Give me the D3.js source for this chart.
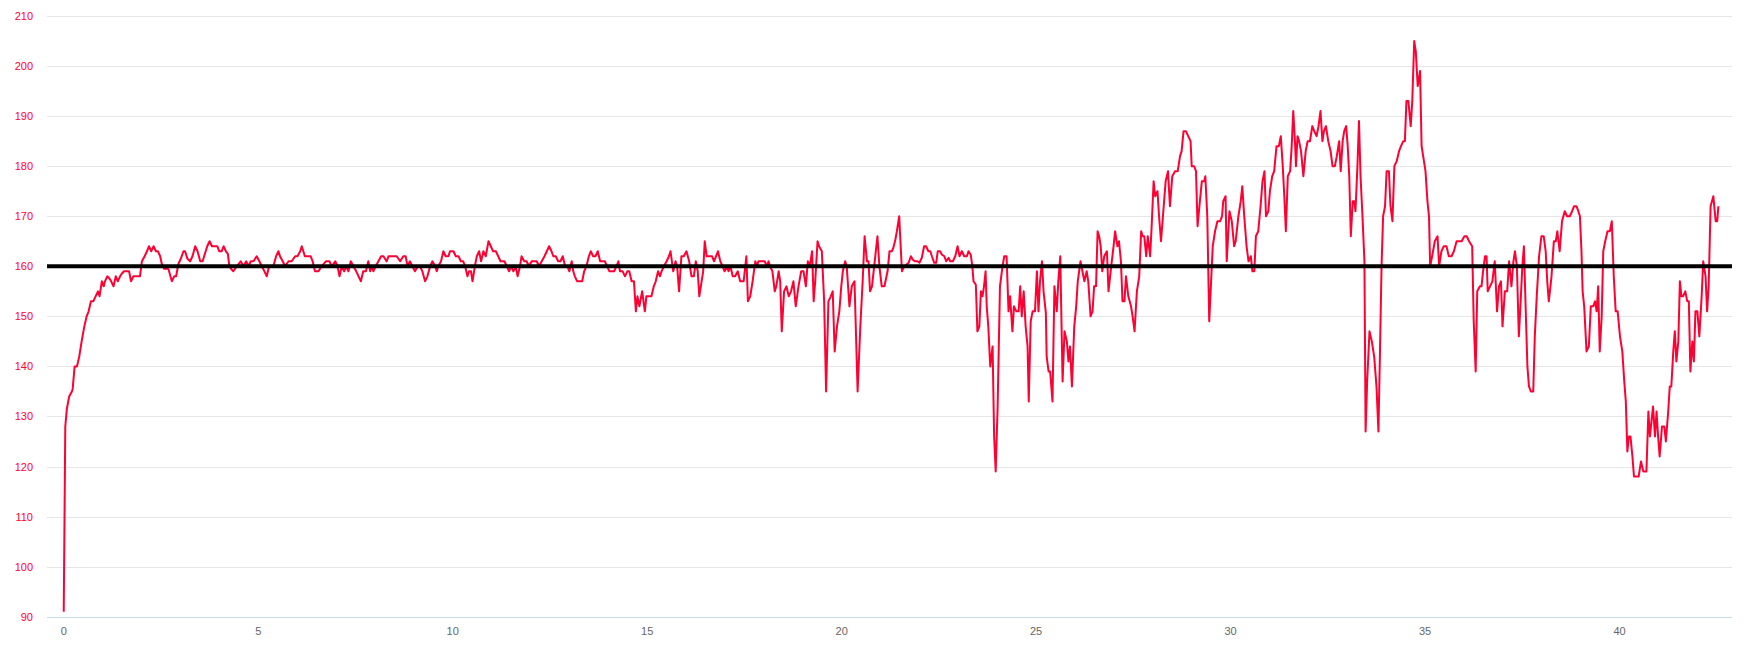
<!DOCTYPE html>
<html>
<head>
<meta charset="utf-8">
<script src="https://cdn.jsdelivr.net/npm/d3@7"></script>
<style>
    html, body { margin: 0; padding: 0; background: #ffffff; }
    #chart svg { display: block; }
    .grid-line { stroke: #e6e6e6; stroke-width: 1; }
    .x-axis-line { stroke: #ccd6eb; stroke-width: 1; }
    .y-label { fill: #ff0033; font-family: "Liberation Sans", Arial, sans-serif; font-size: 11px; }
    .x-label { fill: #666666; font-family: "Liberation Sans", Arial, sans-serif; font-size: 11px; }
    .reading-line { fill: none; stroke: #ff0033; stroke-width: 2; stroke-linejoin: round; }
    .target-line { stroke: #000000; stroke-width: 4; }
</style>
</head>
<body>
<div id="chart"></div>
<script>
// distance (km) / value pairs
var readings = [
    [0, 91], [0.04, 128], [0.08, 131.5], [0.14, 134], [0.21, 135], [0.23, 135.5], [0.28, 140], [0.34, 140], [0.40, 142], [0.46, 145],
    [0.53, 148], [0.59, 150], [0.64, 151], [0.70, 153], [0.76, 153], [0.82, 154], [0.88, 155], [0.92, 154], [0.98, 157], [1.03, 156],
    [1.06, 157], [1.12, 158], [1.18, 157.5], [1.22, 157], [1.28, 156], [1.34, 158], [1.39, 157], [1.45, 158], [1.49, 158.5], [1.55, 159],
    [1.62, 159], [1.68, 159], [1.73, 157], [1.79, 158], [1.88, 158], [1.96, 158], [2.01, 161], [2.08, 162], [2.14, 163], [2.19, 164],
    [2.25, 163], [2.31, 164], [2.37, 163], [2.42, 163], [2.48, 162], [2.52, 160.5], [2.58, 159.5], [2.65, 159.5], [2.69, 159.5], [2.78, 157],
    [2.84, 158], [2.89, 158], [2.95, 160.5], [3.01, 161.5], [3.08, 163], [3.12, 163], [3.18, 161.5], [3.25, 161], [3.31, 162], [3.38, 164],
    [3.44, 163], [3.51, 161], [3.57, 161], [3.63, 162.5], [3.69, 164], [3.75, 165], [3.81, 164], [3.88, 164], [3.95, 164], [4.00, 163],
    [4.06, 163], [4.11, 164], [4.17, 163], [4.22, 162.5], [4.25, 160.5], [4.30, 159.5],
    [4.36, 159], [4.45, 160], [4.55, 161], [4.62, 160], [4.69, 161], [4.75, 160], [4.81, 161], [4.88, 161], [4.96, 162], [5.03, 161],
    [5.09, 160], [5.16, 159], [5.22, 158], [5.28, 160], [5.39, 160], [5.46, 162], [5.52, 163], [5.56, 162], [5.63, 161], [5.69, 160],
    [5.78, 161], [5.86, 161], [5.95, 162], [6.01, 162], [6.08, 163], [6.12, 164], [6.20, 162], [6.29, 162], [6.35, 162], [6.40, 161],
    [6.46, 159], [6.55, 159], [6.63, 160], [6.74, 161], [6.83, 161], [6.89, 160], [6.98, 161], [7.04, 160], [7.09, 158], [7.15, 160],
    [7.21, 159], [7.26, 160], [7.32, 159], [7.38, 161], [7.45, 160], [7.52, 159], [7.58, 158], [7.64, 157], [7.70, 159], [7.77, 159],
    [7.83, 161], [7.88, 159], [7.92, 160], [7.96, 159], [8.02, 160], [8.09, 161], [8.16, 162], [8.22, 162],
    [8.30, 161], [8.35, 162], [8.47, 162], [8.56, 162], [8.65, 161], [8.73, 162], [8.79, 162], [8.84, 160], [8.90, 161], [8.96, 160],
    [9.03, 159], [9.10, 160], [9.16, 160], [9.22, 159], [9.29, 157], [9.35, 158], [9.42, 160], [9.48, 161], [9.55, 160], [9.59, 159],
    [9.63, 160], [9.70, 161], [9.76, 163], [9.82, 162], [9.89, 162], [9.93, 163], [10.02, 163], [10.08, 162], [10.15, 162], [10.21, 161],
    [10.27, 161], [10.32, 160], [10.38, 158], [10.42, 159], [10.47, 159], [10.51, 157], [10.57, 160], [10.62, 162], [10.68, 163], [10.73, 161],
    [10.79, 163], [10.85, 162], [10.92, 165], [10.98, 164], [11.04, 163], [11.11, 163], [11.17, 162], [11.23, 161], [11.28, 161], [11.33, 161],
    [11.39, 160], [11.45, 159], [11.50, 160], [11.56, 159], [11.62, 160], [11.67, 158], [11.73, 160], [11.77, 162], [11.84, 161], [11.90, 161],
    [11.96, 160], [12.03, 161], [12.10, 161], [12.16, 161], [12.22, 160], [12.29, 161], [12.36, 162], [12.42, 163], [12.48, 164], [12.54, 163],
    [12.59, 162], [12.65, 162], [12.71, 161], [12.77, 161], [12.83, 162], [12.89, 160], [12.95, 160], [13.00, 159], [13.06, 161], [13.10, 159],
    [13.14, 158], [13.20, 157], [13.27, 157], [13.33, 157], [13.38, 159], [13.44, 160], [13.50, 162], [13.55, 163], [13.61, 162], [13.67, 162],
    [13.73, 163], [13.79, 161], [13.85, 161], [13.91, 161], [13.97, 160], [14.03, 159], [14.09, 159], [14.15, 159], [14.21, 160], [14.26, 161],
    [14.30, 159], [14.37, 159], [14.43, 158], [14.49, 159], [14.54, 159], [14.60, 157], [14.66, 157], [14.71, 151], [14.75, 154], [14.80, 152],
    [14.87, 155], [14.94, 151], [14.98, 154], [15.05, 154], [15.11, 154], [15.17, 156], [15.22, 157], [15.28, 159], [15.33, 158], [15.37, 159],
    [15.43, 160], [15.50, 161], [15.56, 162], [15.60, 163], [15.67, 159], [15.73, 161], [15.77, 160], [15.82, 155], [15.88, 162], [15.94, 162],
    [16.01, 163], [16.08, 161], [16.14, 158], [16.20, 158], [16.25, 161], [16.30, 159], [16.34, 154], [16.40, 157], [16.44, 159], [16.48, 165],
    [16.53, 162], [16.61, 162], [16.67, 162], [16.72, 161],
    [16.82, 163], [16.88, 161], [16.94, 160], [16.99, 159], [17.05, 160], [17.09, 159], [17.14, 160], [17.20, 158], [17.26, 158], [17.33, 159],
    [17.39, 157], [17.48, 157], [17.55, 162], [17.59, 153], [17.65, 154], [17.71, 157], [17.78, 161], [17.82, 160], [17.86, 161], [17.93, 161],
    [18.02, 161], [18.08, 160], [18.12, 161], [18.16, 160], [18.22, 159], [18.28, 155], [18.32, 156], [18.38, 159], [18.42, 157], [18.46, 147],
    [18.52, 155], [18.58, 156], [18.64, 154], [18.70, 155], [18.76, 157], [18.82, 152], [18.89, 156], [18.96, 159], [19.02, 159], [19.08, 156],
    [19.13, 161], [19.18, 160], [19.24, 163], [19.28, 153], [19.32, 157], [19.38, 165], [19.42, 164], [19.49, 163], [19.55, 153], [19.60, 135],
    [19.66, 153], [19.72, 154], [19.77, 155], [19.82, 143], [19.88, 148], [19.94, 151], [19.99, 156], [20.03, 159], [20.09, 161], [20.13, 160],
    [20.20, 152], [20.26, 156], [20.33, 157], [20.41, 135], [20.48, 148], [20.54, 157], [20.59, 166], [20.65, 161], [20.69, 161], [20.73, 155],
    [20.78, 156], [20.85, 161], [20.92, 166], [20.97, 160], [21.03, 156], [21.10, 156],
    [21.18, 159], [21.23, 163], [21.29, 163], [21.33, 163.7], [21.38, 165.3], [21.42, 167], [21.48, 170], [21.50, 166.7], [21.55, 159], [21.59, 159.7],
    [21.66, 160.3], [21.72, 160.7], [21.78, 162], [21.83, 161.3], [21.89, 161], [21.95, 161], [22.00, 160.7], [22.06, 161.7], [22.12, 164], [22.17, 164],
    [22.23, 163], [22.28, 163], [22.32, 162], [22.38, 160.7], [22.43, 160.7], [22.47, 163], [22.53, 163], [22.58, 162.3], [22.64, 162], [22.69, 161],
    [22.75, 161.7], [22.79, 161], [22.86, 161], [22.92, 162], [22.98, 164], [23.03, 162], [23.09, 163], [23.15, 162], [23.22, 162], [23.26, 163],
    [23.32, 162.3], [23.36, 160], [23.39, 157], [23.45, 156.3], [23.49, 147], [23.54, 148], [23.58, 155], [23.62, 154], [23.66, 156], [23.70, 159],
    [23.73, 152], [23.77, 148], [23.82, 140], [23.88, 144], [23.92, 126], [23.96, 119], [24.01, 132], [24.07, 156], [24.13, 159.7], [24.18, 162],
    [24.24, 162], [24.29, 151], [24.33, 154], [24.39, 147], [24.43, 152], [24.49, 151], [24.55, 151], [24.59, 156], [24.63, 150], [24.68, 155],
    [24.73, 148], [24.78, 144], [24.81, 133], [24.86, 149], [24.91, 151], [24.97, 151], [25.02, 159], [25.06, 151], [25.10, 157], [25.15, 161],
    [25.19, 155], [25.25, 150.7],
    [25.27, 142], [25.32, 139], [25.36, 139], [25.42, 133], [25.47, 156], [25.53, 151], [25.57, 157], [25.62, 162], [25.68, 137], [25.73, 147],
    [25.79, 145], [25.83, 141], [25.87, 144], [25.92, 136], [25.98, 148], [26.03, 152], [26.07, 157], [26.14, 161], [26.19, 159], [26.24, 157],
    [26.30, 159], [26.34, 157], [26.40, 150], [26.45, 151], [26.49, 156], [26.54, 156], [26.58, 167], [26.62, 166], [26.66, 164], [26.70, 159],
    [26.75, 162], [26.82, 163], [26.86, 155], [26.93, 160], [26.99, 164], [27.03, 167], [27.09, 164], [27.13, 165], [27.18, 161], [27.22, 153],
    [27.27, 153], [27.31, 158], [27.37, 154], [27.44, 152], [27.48, 150], [27.53, 147], [27.59, 155], [27.65, 158], [27.70, 167], [27.74, 166],
    [27.78, 166], [27.83, 162], [27.87, 166], [27.93, 162], [27.97, 168], [28.02, 177], [28.06, 174], [28.12, 175], [28.16, 170], [28.21, 165],
    [28.27, 171], [28.33, 177], [28.39, 179], [28.44, 172], [28.50, 178], [28.57, 179], [28.64, 179], [28.70, 182], [28.74, 183], [28.79, 187],
    [28.85, 187], [28.91, 186], [28.97, 185], [29.00, 180], [29.06, 180], [29.11, 179], [29.15, 168], [29.21, 173], [29.26, 177], [29.32, 177],
    [29.35, 178], [29.40, 170], [29.45, 149],
    [29.54, 164], [29.60, 167], [29.66, 169], [29.73, 169], [29.78, 170], [29.81, 173], [29.87, 174], [29.90, 161], [29.97, 171], [30.03, 169],
    [30.09, 164], [30.13, 165], [30.20, 170], [30.26, 173], [30.30, 176], [30.35, 170], [30.41, 164], [30.46, 161], [30.52, 162], [30.56, 159],
    [30.61, 159], [30.65, 166], [30.71, 167], [30.77, 172], [30.82, 177], [30.87, 179], [30.91, 170], [30.97, 171], [31.01, 175], [31.07, 178],
    [31.12, 179], [31.18, 184], [31.24, 184], [31.29, 186], [31.34, 180], [31.38, 174], [31.42, 167], [31.47, 178], [31.53, 179], [31.57, 184],
    [31.61, 191], [31.66, 184], [31.68, 180], [31.72, 186], [31.76, 185], [31.81, 183], [31.87, 178], [31.93, 183], [31.98, 185], [32.04, 185],
    [32.10, 188], [32.15, 187], [32.21, 186], [32.26, 188], [32.31, 191], [32.36, 185], [32.40, 187], [32.45, 188], [32.51, 185], [32.57, 183],
    [32.62, 180], [32.68, 180], [32.73, 182], [32.79, 185], [32.83, 179], [32.88, 185], [32.92, 187], [32.97, 188], [33.01, 184], [33.05, 178],
    [33.09, 166], [33.14, 173], [33.18, 173], [33.21, 171], [33.26, 180], [33.30, 189], [33.34, 178], [33.39, 170], [33.44, 161], [33.47, 127],
    [33.51, 137], [33.57, 147], [33.63, 145], [33.69, 142],
    [33.75, 136], [33.80, 127], [33.84, 143], [33.88, 160], [33.92, 170], [33.97, 172], [34.01, 179], [34.07, 179], [34.11, 172], [34.16, 169],
    [34.21, 180], [34.27, 181], [34.33, 183], [34.38, 184], [34.44, 185], [34.48, 185], [34.52, 193], [34.57, 193], [34.63, 188], [34.67, 193],
    [34.72, 205], [34.76, 203], [34.81, 196], [34.87, 199], [34.91, 184], [34.95, 182], [35.01, 179], [35.06, 173], [35.10, 170], [35.13, 160],
    [35.18, 162], [35.25, 165], [35.32, 166], [35.36, 160], [35.42, 163], [35.48, 164], [35.55, 164], [35.61, 162], [35.68, 162], [35.74, 163],
    [35.81, 165], [35.87, 165], [35.94, 165], [36.01, 166], [36.07, 166], [36.13, 165], [36.21, 164], [36.25, 149], [36.30, 139], [36.34, 155],
    [36.41, 156], [36.45, 156], [36.49, 159], [36.54, 162], [36.58, 162], [36.61, 155], [36.67, 156], [36.73, 157], [36.79, 161], [36.85, 151],
    [36.90, 156], [36.95, 157], [36.99, 148], [37.05, 155], [37.11, 155], [37.16, 161], [37.22, 156], [37.27, 161], [37.31, 163], [37.36, 160],
    [37.41, 146], [37.45, 152], [37.50, 160], [37.54, 164], [37.58, 153], [37.63, 140], [37.67, 136], [37.72, 135], [37.78, 135], [37.82, 146],
    [37.87, 154], [37.93, 162],
    [37.99, 166], [38.05, 166], [38.10, 163], [38.14, 157], [38.18, 153], [38.25, 158], [38.31, 165], [38.36, 165], [38.40, 167], [38.46, 163],
    [38.52, 169], [38.59, 171], [38.65, 170], [38.72, 170], [38.78, 171], [38.83, 172], [38.89, 172], [38.94, 171], [38.98, 170], [39.02, 163],
    [39.05, 155], [39.09, 152], [39.15, 143], [39.21, 144], [39.26, 152], [39.32, 152], [39.37, 153], [39.41, 151], [39.45, 156], [39.49, 143],
    [39.54, 150], [39.58, 163], [39.63, 165], [39.69, 167], [39.75, 167], [39.80, 169], [39.85, 158], [39.90, 151], [39.95, 151], [40.01, 146],
    [40.07, 143], [40.12, 137], [40.16, 133], [40.20, 123], [40.24, 126], [40.28, 126], [40.33, 122], [40.37, 118], [40.43, 118], [40.49, 118],
    [40.55, 121], [40.61, 119], [40.69, 119], [40.74, 131], [40.78, 126], [40.82, 129], [40.86, 132], [40.91, 126], [40.95, 131], [40.99, 126],
    [41.03, 122], [41.09, 128], [41.15, 128], [41.19, 125], [41.25, 131], [41.29, 136], [41.33, 136], [41.38, 143], [41.42, 147], [41.46, 141],
    [41.51, 145], [41.55, 157], [41.59, 154], [41.63, 154], [41.69, 155], [41.74, 153], [41.78, 153], [41.82, 139], [41.87, 145], [41.91, 141],
    [41.95, 151], [42.00, 151], [42.05, 146], [42.11, 154], [42.15, 161], [42.21, 158], [42.25, 151], [42.29, 156], [42.34, 172], [42.41, 174],
    [42.47, 169], [42.51, 169], [42.54, 172]
];

var targetValue = 160;
var yTicks = [90, 100, 110, 120, 130, 140, 150, 160, 170, 180, 190, 200, 210];
var xTicks = [0, 5, 10, 15, 20, 25, 30, 35, 40];
var xDomain = [-0.43, 42.89];
var yDomain = [90, 210];

(function () {
    var width = 1751;
    var height = 653;
    var plot = { left: 47, right: 1732, top: 16, bottom: 616.7 };

    var x = d3.scaleLinear().domain(xDomain).range([plot.left, plot.right]);
    var y = d3.scaleLinear().domain(yDomain).range([plot.bottom, plot.top]);

    var svg = d3.select("#chart")
        .append("svg")
        .attr("width", width)
        .attr("height", height);

    // horizontal grid, lowest one is the axis line
    svg.append("g")
        .selectAll("line")
        .data(yTicks.slice(1))
        .enter()
        .append("line")
        .attr("class", "grid-line")
        .attr("x1", plot.left)
        .attr("x2", plot.right)
        .attr("y1", function (d) { return Math.round(y(d)) + 0.5; })
        .attr("y2", function (d) { return Math.round(y(d)) + 0.5; });

    svg.append("line")
        .attr("class", "x-axis-line")
        .attr("x1", plot.left)
        .attr("x2", plot.right)
        .attr("y1", Math.round(y(yDomain[0])) + 0.5)
        .attr("y2", Math.round(y(yDomain[0])) + 0.5);

    svg.append("g")
        .selectAll("text")
        .data(yTicks)
        .enter()
        .append("text")
        .attr("class", "y-label")
        .attr("x", 33)
        .attr("y", function (d) { return y(d) + 4; })
        .attr("text-anchor", "end")
        .text(function (d) { return d; });

    svg.append("g")
        .selectAll("text")
        .data(xTicks)
        .enter()
        .append("text")
        .attr("class", "x-label")
        .attr("x", function (d) { return x(d); })
        .attr("y", plot.bottom + 18)
        .attr("text-anchor", "middle")
        .text(function (d) { return d; });

    var line = d3.line()
        .x(function (d) { return x(d[0]); })
        .y(function (d) { return y(d[1]); });

    svg.append("path")
        .datum(readings)
        .attr("class", "reading-line")
        .attr("d", line);

    svg.append("line")
        .attr("class", "target-line")
        .attr("x1", plot.left)
        .attr("x2", plot.right)
        .attr("y1", y(targetValue))
        .attr("y2", y(targetValue));
}());
</script>
</body>
</html>
